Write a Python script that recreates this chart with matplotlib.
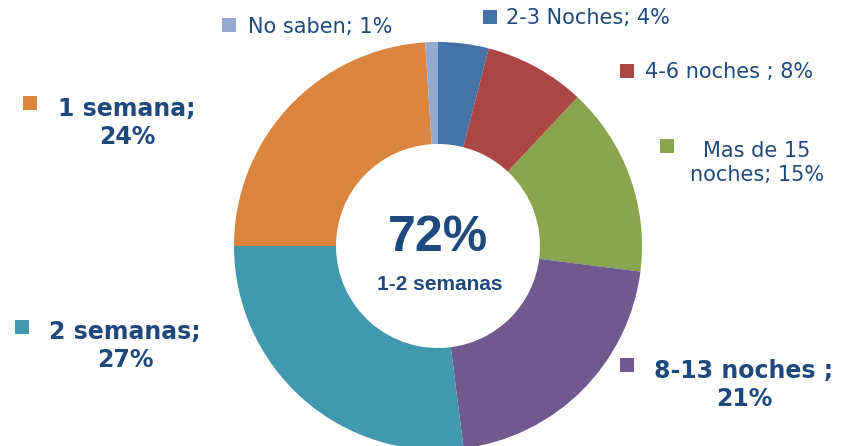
import matplotlib
matplotlib.use("Agg")
import matplotlib.pyplot as plt
from matplotlib.patches import Rectangle

# datos (sentido horario desde arriba)
categorias = ["2-3 Noches; 4%", "4-6 noches ; 8%", "Mas de 15\nnoches; 15%",
              "8-13 noches ;\n21%", "2 semanas;\n27%", "1 semana;\n24%", "No saben; 1%"]
valores = [4, 8, 15, 21, 27, 24, 1]
colores = ["#4572A7", "#AA4643", "#89A54E", "#71588F", "#4198AF", "#DB843D", "#93A9CF"]
negrita = [False, False, False, True, True, True, False]
centro_valor = "72%"
centro_texto = "1-2 semanas"

# posiciones de las etiquetas (pixeles de imagen: x, y del texto, x, y del cuadro)
pos_texto = [(506, 18, "left"), (645, 72, "left"), (757, 163, "center"),
             (744, 385, "center"), (125, 346, "center"), (127, 123, "center"), (248, 27, "left")]
pos_cuadro = [(483, 10), (620, 64), (660, 139), (620, 358), (15, 320), (23, 96), (222, 18)]

W, H = 841, 446
azul = "#1F497D"

fig = plt.figure(figsize=(W / 100, H / 100), dpi=100)
ax = fig.add_axes([0, 0, 1, 1])

def y(v):
    return H - v

ax.pie(valores, colors=colores, startangle=90, counterclock=False,
       center=(438, y(246)), radius=204,
       wedgeprops=dict(width=102, linewidth=0), frame=True)
ax.set_xlim(0, W)
ax.set_ylim(0, H)
ax.set_aspect("equal")
ax.axis("off")

for txt, (tx, ty, ha), (cx, cy), col, b in zip(categorias, pos_texto, pos_cuadro, colores, negrita):
    ax.add_patch(Rectangle((cx, y(cy) - 14), 14, 14, color=col, linewidth=0))
    ax.text(tx, y(ty), txt, ha=ha, va="center", color=azul,
            fontsize=17 if b else 15, fontweight="bold" if b else "normal",
            family="DejaVu Sans", linespacing=1.25)

ax.text(438, y(238), centro_valor, ha="center", va="center", color=azul,
        fontsize=36, fontweight="bold", family="Liberation Sans")
ax.text(440, y(284), centro_texto, ha="center", va="center", color=azul,
        fontsize=15, fontweight="bold", family="Liberation Sans")

fig.savefig("out.png", dpi=100)
